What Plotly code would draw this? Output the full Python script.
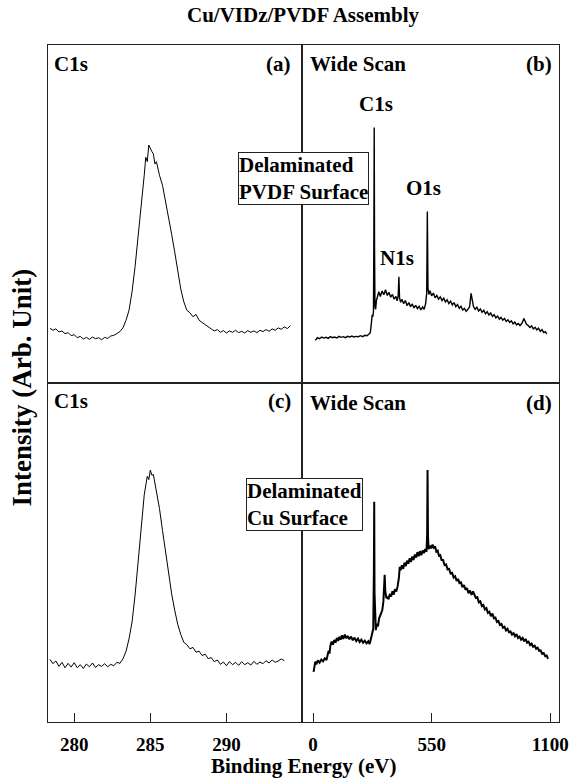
import plotly.graph_objects as go

# ---------------- data ----------------
c1s_a_energy = [278.4, 278.6, 278.8, 279.0, 279.2, 279.4, 279.6, 279.8, 280.0, 280.2, 280.4, 280.6, 280.8,
                281.0, 281.2, 281.4, 281.6, 281.8, 282.0, 282.2, 282.4, 282.6, 282.8, 283.0, 283.2, 283.4,
                283.6, 283.8, 284.0, 284.2, 284.4, 284.6, 284.7, 284.8, 284.9, 285.0, 285.1, 285.2, 285.3,
                285.4, 285.6, 285.8, 286.0, 286.2, 286.4, 286.6, 286.8, 287.0, 287.2, 287.4, 287.6, 287.8,
                288.0, 288.2, 288.4, 288.6, 288.8, 289.0, 289.2, 289.4, 289.6, 289.8, 290.0, 290.2, 290.4,
                290.6, 290.8, 291.0, 291.2, 291.4, 291.6, 291.8, 292.0, 292.2, 292.4, 292.6, 292.8, 293.0,
                293.2, 293.4, 293.6, 293.8, 294.0, 294.2]
c1s_a_intensity = [16.2, 15.6, 16.0, 15.1, 15.4, 14.6, 14.9, 14.0, 14.3, 13.4, 13.8, 13.0, 13.5,
                   12.9, 13.6, 13.1, 13.4, 12.8, 13.5, 13.2, 13.9, 14.1, 14.6, 15.2, 16.3, 18.5,
                   21.5, 27.0, 34.5, 43.0, 52.5, 61.5, 66.8, 65.5, 70.4, 69.2, 68.5, 67.8, 64.8,
                   65.5, 61.5, 58.5, 54.0, 49.5, 44.0, 38.8, 33.0, 27.8, 24.0, 21.5, 20.8, 19.6,
                   20.3, 18.6, 17.9, 17.2, 16.5, 16.0, 15.4, 15.8, 15.0, 15.5, 14.8, 15.4, 15.0,
                   15.6, 14.9, 15.3, 14.8, 15.5, 15.0, 15.4, 14.9, 15.6, 15.2, 15.8, 15.3, 16.0,
                   15.6, 16.3, 15.9, 16.6, 16.1, 17.0]

c1s_c_energy = [278.4, 278.6, 278.8, 279.0, 279.2, 279.4, 279.6, 279.8, 280.0, 280.2, 280.4, 280.6, 280.8,
                281.0, 281.2, 281.4, 281.6, 281.8, 282.0, 282.2, 282.4, 282.6, 282.8, 283.0, 283.2, 283.4,
                283.6, 283.8, 284.0, 284.2, 284.4, 284.6, 284.8, 284.9, 285.0, 285.1, 285.2, 285.3, 285.4,
                285.6, 285.8, 286.0, 286.2, 286.4, 286.6, 286.8, 287.0, 287.2, 287.4, 287.6, 287.8, 288.0,
                288.2, 288.4, 288.6, 288.8, 289.0, 289.2, 289.4, 289.6, 289.8, 290.0, 290.2, 290.4, 290.6,
                290.8, 291.0, 291.2, 291.4, 291.6, 291.8, 292.0, 292.2, 292.4, 292.6, 292.8, 293.0, 293.2,
                293.4, 293.6, 293.8]
c1s_c_intensity = [18.5, 17.2, 18.0, 16.4, 17.6, 16.0, 17.3, 16.2, 17.5, 16.0, 16.9, 15.8, 17.1,
                   16.3, 17.4, 16.1, 16.9, 16.4, 17.2, 16.3, 17.0, 16.6, 17.6, 17.3, 18.6, 20.8,
                   24.5, 29.5, 37.5, 47.0, 57.5, 67.0, 72.5, 71.5, 74.3, 72.8, 73.0, 70.5, 68.5,
                   63.0, 56.5, 50.0, 43.5, 37.8, 33.0, 28.8, 25.8, 23.5, 22.8, 21.6, 22.0, 20.6,
                   20.9, 19.6, 20.0, 18.7, 19.0, 17.8, 18.3, 17.0, 17.7, 16.6, 17.8, 16.9, 17.6,
                   16.7, 17.8, 16.9, 17.5, 16.8, 17.9, 17.0, 17.7, 17.2, 18.1, 17.4, 18.3, 17.6,
                   18.0, 18.6, 18.1]

wide_b_energy = [10, 20, 30, 40, 50, 60, 70, 80, 90, 100, 110, 120, 130, 140, 150, 160, 170, 180, 190,
                 200, 210, 220, 230, 240, 250, 258, 265, 270, 274, 277, 280, 282, 283.5, 285, 287, 290,
                 294, 298, 305, 312, 320, 328, 336, 344, 352, 360, 368, 376, 384, 390, 395, 398, 401,
                 406, 412, 420, 428, 436, 444, 452, 460, 468, 476, 484, 492, 500, 508, 515, 522, 527,
                 530, 533, 537, 542, 550, 558, 566, 574, 582, 590, 598, 606, 614, 622, 630, 638, 646,
                 654, 662, 670, 678, 686, 694, 702, 710, 718, 726, 733, 738, 744, 752, 760, 768, 776,
                 784, 792, 800, 808, 816, 824, 832, 840, 848, 856, 864, 872, 880, 888, 896, 904, 912,
                 920, 928, 936, 944, 952, 960, 970, 978, 984, 990, 998, 1006, 1014, 1022, 1030, 1038,
                 1046, 1054, 1062, 1070, 1078, 1084]
wide_b_intensity = [12.6, 13.4, 13.1, 13.6, 13.3, 13.5, 13.2, 13.7, 13.4, 13.6, 13.3, 13.8, 13.5, 13.7,
                    13.4, 13.8, 13.6, 13.9, 13.6, 13.8, 13.7, 14.0, 13.7, 14.1, 14.0, 14.4, 14.8, 17.5,
                    20.2, 19.6, 21.0, 45.0, 75.6, 40.0, 22.5, 21.8, 24.5, 25.8, 27.0, 25.6, 27.2, 26.1,
                    27.6, 25.9, 26.8, 25.4, 26.2, 24.8, 25.6, 24.3, 26.0, 31.4, 25.2, 23.9, 24.8, 23.5,
                    24.4, 22.9, 23.8, 22.6, 23.4, 22.2, 23.0, 22.0, 22.7, 21.6, 22.5, 21.8, 23.5, 26.5,
                    50.7, 28.0, 26.2, 27.3, 25.8, 26.6, 25.2, 25.9, 24.8, 25.5, 24.4, 25.1, 24.0, 24.6,
                    23.5, 24.2, 23.1, 23.8, 22.6, 23.2, 22.1, 22.7, 21.6, 22.1, 21.2, 21.8, 22.5, 26.5,
                    24.0, 22.6, 21.8, 22.4, 21.3, 21.9, 20.9, 21.5, 20.5, 21.1, 20.1, 20.7, 19.7, 20.2,
                    19.3, 19.8, 18.9, 19.4, 18.6, 19.1, 18.2, 18.7, 17.9, 18.4, 17.5, 18.0, 17.2, 17.6,
                    17.0, 17.8, 19.1, 18.3, 17.4, 17.0, 16.4, 16.9, 16.0, 16.5, 15.7, 16.2, 15.3, 15.8,
                    14.9, 15.2, 14.5]

wide_d_energy = [2, 6, 10, 15, 22, 30, 38, 46, 54, 62, 68, 72, 76, 80, 86, 92, 98, 104, 110, 116, 122,
                 128, 134, 140, 147, 154, 160, 168, 176, 184, 192, 200, 208, 216, 224, 232, 240, 248,
                 256, 262, 268, 274, 279, 282, 283.5, 285, 288, 291, 296, 301, 306, 311, 316, 321, 326,
                 330, 332, 335, 340, 344, 350, 356, 362, 368, 374, 380, 386, 392, 398, 402, 406, 412,
                 418, 424, 430, 436, 442, 448, 454, 460, 466, 472, 478, 484, 490, 496, 502, 508, 514,
                 520, 526, 529, 531, 533, 536, 542, 548, 554, 560, 566, 572, 578, 584, 590, 596, 603,
                 610, 617, 624, 631, 638, 645, 652, 659, 666, 673, 679, 686, 693, 700, 707, 714, 721,
                 728, 735, 742, 748, 755, 762, 769, 776, 783, 790, 797, 804, 811, 818, 825, 832, 839,
                 846, 853, 860, 867, 874, 881, 888, 895, 902, 909, 916, 923, 930, 937, 944, 951, 958,
                 965, 972, 979, 986, 993, 1000, 1007, 1014, 1021, 1028, 1035, 1042, 1049, 1056, 1063,
                 1070, 1077, 1084, 1090]
wide_d_intensity = [14.8, 16.5, 17.8, 17.0, 18.2, 17.5, 18.4, 17.9, 18.8, 18.3, 19.5, 21.0, 20.2, 22.5,
                    23.7, 22.8, 24.2, 23.4, 24.8, 23.9, 25.1, 24.3, 25.6, 24.5, 25.8, 24.7, 25.4, 24.4,
                    25.2, 24.1, 24.9, 23.9, 24.6, 23.6, 24.3, 23.4, 24.0, 23.2, 23.8, 23.0, 24.5, 26.0,
                    27.5, 45.0, 65.0, 38.0, 27.5, 27.1, 29.0, 28.2, 30.5, 31.3, 32.4, 33.0, 35.5, 39.0,
                    43.4, 38.5, 36.5, 37.0, 36.2, 37.8, 37.0, 38.6, 37.6, 39.2, 38.5, 40.0, 42.5, 45.8,
                    44.8, 46.2, 45.2, 47.0, 46.0, 47.6, 46.7, 48.3, 47.2, 48.8, 47.8, 49.4, 48.5, 50.1,
                    48.9, 50.4, 49.2, 50.6, 49.8, 51.0, 50.2, 55.0, 74.3, 55.0, 51.0, 52.0, 51.2, 52.3,
                    51.4, 51.8, 50.2, 50.5, 49.0, 49.2, 47.8, 47.8, 46.3, 46.5, 45.0, 45.2, 43.8, 44.0,
                    42.6, 43.0, 41.6, 42.2, 41.0, 41.2, 39.8, 40.4, 39.0, 39.5, 38.0, 38.8, 37.5, 38.5,
                    37.8, 36.6, 36.8, 35.3, 35.6, 34.2, 34.5, 33.2, 33.6, 32.2, 32.5, 31.2, 32.0, 30.6,
                    30.8, 29.5, 29.8, 28.6, 28.9, 27.8, 28.1, 27.0, 27.5, 26.5, 26.7, 25.8, 26.2, 25.3,
                    25.9, 24.8, 25.2, 24.3, 24.8, 23.8, 24.5, 23.4, 23.7, 22.7, 23.1, 22.2, 22.5, 21.6,
                    21.9, 21.0, 21.1, 20.1, 20.3, 19.4, 19.6, 18.6]

c1s_ticks = [280, 285, 290]
wide_ticks = [0, 550, 1100]
c1s_range = [278.28, 294.93]
wide_range = [-53.8, 1141]
intensity_range = [0, 100]

# ---------------- layout helpers ----------------
W, H = 580, 781
L, R, T, B = 48, 568, 45, 722
XMID, YMID = 306, 383
FONT = "Liberation Serif, Times New Roman, DejaVu Serif, serif"
INK = "#222222"


def px(x):
    return (x - L) / (R - L)


def py(y):
    return (B - y) / (B - T)


dx = px(XMID)
dy = py(YMID)

fig = go.Figure()
panels = [
    (c1s_a_energy, c1s_a_intensity, "x", "y", 1.0),
    (wide_b_energy, wide_b_intensity, "x2", "y2", 1.4),
    (c1s_c_energy, c1s_c_intensity, "x3", "y3", 1.0),
    (wide_d_energy, wide_d_intensity, "x4", "y4", 2.0),
]
for xs, ys, xa, ya, lw in panels:
    fig.add_trace(go.Scatter(x=xs, y=ys, xaxis=xa, yaxis=ya, mode="lines",
                             line=dict(color="black", width=lw), showlegend=False,
                             hoverinfo="skip"))

common_x = dict(showline=True, mirror=True, linecolor=INK, linewidth=1, showgrid=False,
                zeroline=False, fixedrange=True)
common_y = dict(showline=True, mirror=True, linecolor=INK, linewidth=1, showgrid=False,
                zeroline=False, showticklabels=False, ticks="", range=intensity_range)
tickfont = dict(family=FONT, size=19, color="black", weight="bold")

fig.update_layout(
    width=W, height=H, autosize=False,
    margin=dict(l=L, r=W - R, t=T, b=H - B, pad=0),
    paper_bgcolor="white", plot_bgcolor="white",
    xaxis=dict(domain=[0, dx], range=c1s_range, anchor="y", showticklabels=False, ticks="", **common_x),
    xaxis2=dict(domain=[dx, 1], range=wide_range, anchor="y2", showticklabels=False, ticks="", **common_x),
    xaxis3=dict(domain=[0, dx], range=c1s_range, anchor="y3", tickvals=c1s_ticks, ticks="inside",
                ticklen=9, tickwidth=1, tickcolor=INK, tickfont=tickfont, ticklabelstandoff=5, **common_x),
    xaxis4=dict(domain=[dx, 1], range=wide_range, anchor="y4", tickvals=wide_ticks, ticks="inside",
                ticklen=9, tickwidth=1, tickcolor=INK, tickfont=tickfont, ticklabelstandoff=5, **common_x),
    yaxis=dict(domain=[dy, 1], anchor="x", **common_y),
    yaxis2=dict(domain=[dy, 1], anchor="x2", **common_y),
    yaxis3=dict(domain=[0, dy], anchor="x3", **common_y),
    yaxis4=dict(domain=[0, dy], anchor="x4", **common_y),
)


def label(text, x, y, size=21, xanchor="left", **kw):
    fig.add_annotation(text=text, x=px(x), y=py(y), xref="paper", yref="paper",
                       xanchor=xanchor, yanchor="middle", showarrow=False,
                       font=dict(family=FONT, size=size, color="black"), **kw)


# title and axis titles
label("<b>Cu/VIDz/PVDF Assembly</b>", 307, 15, size=21, xanchor="center")
label("<b>Binding Energy (eV)</b>", 308, 766, size=21, xanchor="center")
label("<b>Intensity (Arb. Unit)</b>", 22, 387, size=27, xanchor="center", textangle=-90)

# panel labels
label("<b>C1s</b>", 52, 64)
label("<b>(a)</b>", 297, 64, xanchor="right")
label("<b>Wide Scan</b>", 313, 64)
label("<b>(b)</b>", 563, 64, xanchor="right")
label("<b>C1s</b>", 52, 401)
label("<b>(c)</b>", 297, 401, xanchor="right")
label("<b>Wide Scan</b>", 313, 403)
label("<b>(d)</b>", 563, 403, xanchor="right")

# peak labels in (b)
label("<b>C1s</b>", 382, 104, xanchor="center")
label("<b>O1s</b>", 430, 188, xanchor="center")
label("<b>N1s</b>", 403, 258, xanchor="center")

# boxed notes
label("<b>Delaminated<br>PVDF Surface</b>", 241, 179, size=21, align="left",
      bordercolor=INK, borderwidth=1, borderpad=0, bgcolor="white")
label("<b>Delaminated<br>Cu Surface</b>", 249, 504, size=21, align="left",
      bordercolor=INK, borderwidth=1, borderpad=0, bgcolor="white")

fig.write_html("out.html")
